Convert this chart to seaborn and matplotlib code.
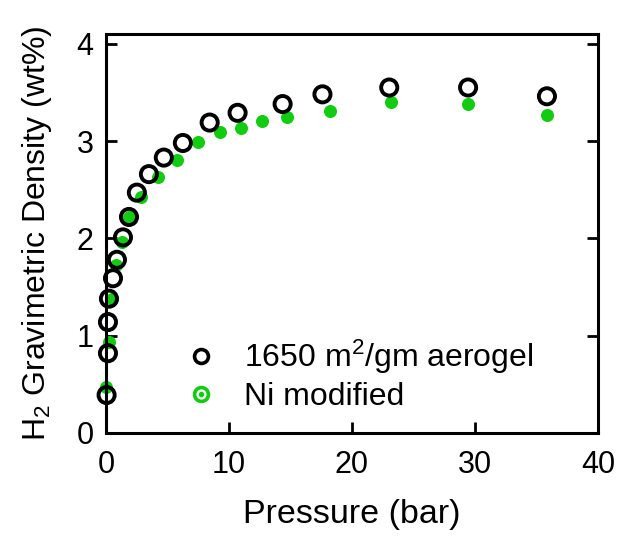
"""
plot.py
Densidad gravimetrica de H2 vs presion (aerogel vs Ni modificado)
Salida: out.png
"""

import pandas as pd
import matplotlib
matplotlib.use("Agg")
import matplotlib.pyplot as plt
import seaborn as sns
from matplotlib.lines import Line2D
from matplotlib.legend_handler import HandlerTuple

# DATOS

aerogel_p = [0.05, 0.16, 0.16, 0.24, 0.57, 0.89, 1.38, 1.87, 2.51, 3.49,
             4.70, 6.25, 8.43, 10.7, 14.36, 17.6, 23.03, 29.44, 35.85]
aerogel_h2 = [0.39, 0.82, 1.14, 1.38, 1.59, 1.78, 2.01, 2.22, 2.47, 2.66,
              2.83, 2.98, 3.19, 3.29, 3.38, 3.48, 3.55, 3.55, 3.46]

ni_p = [0.0, 0.24, 0.49, 0.81, 1.30, 1.87, 2.84, 4.22, 5.76, 7.46,
        9.25, 10.95, 12.65, 14.68, 18.25, 23.2, 29.44, 35.85]
ni_h2 = [0.47, 0.94, 1.38, 1.73, 1.96, 2.22, 2.42, 2.63, 2.81, 2.99,
         3.09, 3.13, 3.21, 3.25, 3.31, 3.40, 3.38, 3.27]

labels = ["1650 m$^2$/gm aerogel", "Ni modified"]
x_ticks = [0, 10, 20, 30, 40]
y_ticks = [0, 1, 2, 3, 4]

GREEN = "#11cc11"

# ESTILO

sns.set_style("white")
plt.rcParams["font.family"] = ["Liberation Sans", "DejaVu Sans"]
plt.rcParams["mathtext.fontset"] = "custom"
plt.rcParams["mathtext.rm"] = "Liberation Sans"
plt.rcParams["mathtext.it"] = "Liberation Sans"
plt.rcParams["mathtext.default"] = "regular"
plt.rcParams["text.color"] = "black"
plt.rcParams["axes.labelcolor"] = "black"
plt.rcParams["xtick.color"] = "black"
plt.rcParams["ytick.color"] = "black"

df_a = pd.DataFrame({"p": aerogel_p, "h2": aerogel_h2})
df_n = pd.DataFrame({"p": ni_p, "h2": ni_h2})

fig = plt.figure(figsize=(6.18, 5.38), dpi=100)
ax = fig.add_axes([0.1715, 0.1952, 0.7961, 0.7416])

sns.scatterplot(data=df_n, x="p", y="h2", ax=ax, color=GREEN, s=88,
                linewidth=0, zorder=2, clip_on=False)
sns.scatterplot(data=df_a, x="p", y="h2", ax=ax, marker="o", s=135,
                facecolor="none", edgecolor="black", linewidth=2.8,
                zorder=3, clip_on=False)

ax.set_xlim(0, 40)
ax.set_ylim(0, 4.1)
ax.set_xticks(x_ticks)
ax.set_yticks(y_ticks)

for sp in ax.spines.values():
    sp.set_linewidth(2.2)
    sp.set_color("black")

ax.tick_params(direction="in", length=8, width=2, colors="black",
               labelsize=22, right=True, left=True, bottom=True, top=False)
ax.tick_params(axis="x", pad=12)
ax.tick_params(axis="y", pad=9)

ax.set_xlabel("Pressure (bar)", fontsize=24.5, labelpad=14)
ax.set_ylabel("H$_2$ Gravimetric Density (wt%)", fontsize=23, labelpad=16)

h_a = Line2D([], [], linestyle="none", marker="o", markersize=10,
             markerfacecolor="none", markeredgecolor="black",
             markeredgewidth=2.6)
h_ring = Line2D([], [], linestyle="none", marker="o", markersize=10,
                markerfacecolor="none", markeredgecolor=GREEN,
                markeredgewidth=2.6)
h_dot = Line2D([], [], linestyle="none", marker="o", markersize=3,
               markerfacecolor=GREEN, markeredgecolor=GREEN)
ax.legend([h_a, (h_ring, h_dot)], labels,
          handler_map={tuple: HandlerTuple(ndivide=1, pad=0)},
          loc="lower left", bbox_to_anchor=(0.135, 0.02), frameon=False,
          fontsize=23, handlelength=1.0, handletextpad=0.85,
          labelspacing=0.2, borderaxespad=0)

fig.savefig("out.png", dpi=100)
